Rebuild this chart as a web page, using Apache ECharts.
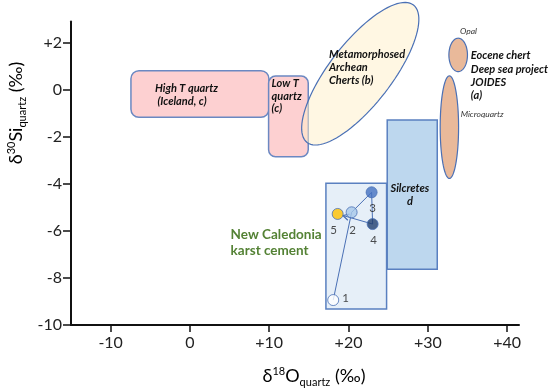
<!DOCTYPE html>
<html><head><meta charset="utf-8">
<script src="https://cdn.jsdelivr.net/npm/echarts@6/dist/echarts.min.js"></script>
<style>html,body{margin:0;padding:0;background:#fff}#c{width:550px;height:388px}</style>
</head><body><div id="c"></div>
<script>
// ---------------- data ----------------
const xTicks = [-10, 0, 10, 20, 30, 40];
const yTicks = [2, 0, -2, -4, -6, -8, -10];

// rectangular fields (x range in δ18O, y range in δ30Si)
const boxNames = ['High T quartz (Iceland, c)', 'Low T quartz (c)', 'Silcretes d', 'New Caledonia karst cement'];
const boxX0 = [-7.44, 9.92, 24.88, 17.15];
const boxX1 = [9.96, 14.92, 31.19, 24.80];
const boxY0 = [-1.17, -2.85, -7.63, -9.32];
const boxY1 = [0.81, 0.58, -1.29, -3.98];

// elliptical fields: centre and two conjugate semi-axes (data units)
const ellNames = ['Metamorphosed Archean Cherts (b)', 'Opal', 'Microquartz'];
const ellCX = [21.48, 33.83, 32.72];
const ellCY = [0.68, 1.48, -1.59];
const ellAX = [6.71, 1.17, 1.16];
const ellAY = [2.92, 0, 0];
const ellBX = [3.10, 0, 0];
const ellBY = [-0.81, 0.71, 2.18];

// New Caledonia karst cement samples
const sampleLabels = ['1', '2', '3', '4', '5'];
const sampleX = [18.07, 20.39, 22.91, 23.04, 18.63];
const sampleY = [-8.94, -5.21, -4.36, -5.71, -5.28];

// ---------------- styles ----------------
const boxStyles = [
  {fill: '#FDD0D1', stroke: '#6B88C2', r: 8},
  {fill: '#FDD0D1', stroke: '#6B88C2', r: 7},
  {fill: '#BDD7EE', stroke: '#5A80C0', r: 0},
  {fill: '#E6EFF8', stroke: '#5A80C0', r: 0}
];
const ellStyles = [
  {fill: 'rgba(255,240,200,0.5)', stroke: '#4A70B5'},
  {fill: '#E9B99A', stroke: '#4A70B5'},
  {fill: '#E9B99A', stroke: '#4A70B5'}
];
const sampleStyles = [
  {color: '#FFFFFF'}, {color: '#A8C8EA'}, {color: '#4470C0'}, {color: '#1F3D6E'}, {color: '#FFC000'}
];
const sampleLabelPos = [
  {position: 'right', distance: 3, offset: [0, -2]},
  {position: 'bottom', distance: 6, offset: [1, 0]},
  {position: 'bottom', distance: 4, offset: [1, 0]},
  {position: 'bottom', distance: 4, offset: [1, 0]},
  {position: 'bottom', distance: 4, offset: [-4, 0]}
];
const FONT = 'Lato, "Open Sans", sans-serif';
const annotations = [
  {text: 'High T quartz\n (Iceland, c)', x: -4.41, y: -0.21, size: 11, lh: 13, weight: 'bold', style: 'italic', align: 'left', color: '#111'},
  {text: 'Low T\nquartz\n(c)', x: 10.30, y: -0.27, size: 11, lh: 12.2, weight: 'bold', style: 'italic', align: 'left', color: '#111'},
  {text: 'Metamorphosed\nArchean\nCherts (b)', x: 17.53, y: 0.94, size: 11, lh: 13.3, weight: 'bold', style: 'italic', align: 'left', color: '#111'},
  {text: 'Opal', x: 34.05, y: 2.50, size: 8.5, lh: 10, weight: 'normal', style: 'italic', align: 'left', color: '#333'},
  {text: 'Eocene chert\nDeep sea project\nJOIDES\n(a)', x: 35.43, y: 0.59, size: 11, lh: 13.4, weight: 'bold', style: 'italic', align: 'left', color: '#111'},
  {text: 'Microquartz', x: 34.14, y: -1.04, size: 8.5, lh: 10, weight: 'normal', style: 'italic', align: 'left', color: '#333'},
  {text: 'Silcretes\nd', x: 27.74, y: -4.47, size: 11, lh: 12.5, weight: 'bold', style: 'italic', align: 'center', color: '#111'},
  {text: 'New Caledonia\nkarst cement', x: 5.13, y: -6.50, size: 13.5, lh: 16.7, weight: 'bold', style: 'normal', align: 'left', color: '#548235'}
];

const chart = echarts.init(document.getElementById('c'), null, {renderer: 'canvas'});

const boxData = boxNames.map((n, i) => ({name: n, value: [boxX0[i], boxY0[i], boxX1[i], boxY1[i]]}));
const ellData = ellNames.map((n, i) => ({name: n, value: [ellCX[i], ellCY[i], ellAX[i], ellAY[i], ellBX[i], ellBY[i]]}));
const sampleData = sampleLabels.map((l, i) => ({
  name: l, value: [sampleX[i], sampleY[i]],
  itemStyle: {color: sampleStyles[i].color, borderColor: '#4A70B5', borderWidth: 1},
  label: Object.assign({show: true, formatter: l, fontSize: 11.5, color: '#222', fontFamily: FONT}, sampleLabelPos[i])
}));
const pathData = sampleLabels.map((l, i) => [sampleX[i], sampleY[i]]);

const fmt = v => (v > 0 ? '+' + v : '' + v);
const axisFont = {fontFamily: FONT, fontSize: 16, color: '#222'};

const option = {
  animation: false,
  backgroundColor: '#fff',
  grid: {left: 71, right: 31, top: 21.5, bottom: 63},
  xAxis: {
    type: 'value', min: -15, max: 41.5,
    splitLine: {show: false},
    axisLine: {onZero: false, lineStyle: {color: '#111', width: 2}},
    axisTick: {customValues: xTicks, length: 7, lineStyle: {color: '#111', width: 1.5}},
    axisLabel: Object.assign({customValues: xTicks, formatter: fmt, margin: 10}, axisFont)
  },
  yAxis: {
    type: 'value', min: -10, max: 2.9,
    splitLine: {show: false},
    axisLine: {onZero: false, lineStyle: {color: '#111', width: 2}},
    axisTick: {customValues: yTicks, length: 8, lineStyle: {color: '#111', width: 1.5}},
    axisLabel: Object.assign({customValues: yTicks, formatter: fmt, margin: 9}, axisFont)
  },
  graphic: [
    {type: 'text', x: 16, y: 113, rotation: Math.PI / 2,
     style: {text: '{m|δ}{sup|30}{m|Si}{sub|quartz}{m| (‰)}', align: 'center', verticalAlign: 'middle',
       rich: {
         m: {fontFamily: FONT, fontSize: 18, color: '#222', lineHeight: 24, verticalAlign: 'middle'},
         sup: {fontFamily: FONT, fontSize: 11, color: '#222', lineHeight: 24, verticalAlign: 'top', padding: [2, 0, 0, 0]},
         sub: {fontFamily: FONT, fontSize: 11, color: '#222', lineHeight: 24, verticalAlign: 'bottom', padding: [0, 0, 0, 0]}
       }}},
    {type: 'text', x: 314, y: 376,
     style: {text: '{m|δ}{sup|18}{m|O}{sub|quartz}{m| (‰)}', align: 'center', verticalAlign: 'middle',
       rich: {
         m: {fontFamily: FONT, fontSize: 18, color: '#222', lineHeight: 24, verticalAlign: 'middle'},
         sup: {fontFamily: FONT, fontSize: 11, color: '#222', lineHeight: 24, verticalAlign: 'top', padding: [2, 0, 0, 0]},
         sub: {fontFamily: FONT, fontSize: 11, color: '#222', lineHeight: 24, verticalAlign: 'bottom'}
       }}}
  ],
  series: [
    {
      type: 'custom', name: 'fields', z: 1,
      data: boxData,
      encode: {x: [0, 2], y: [1, 3]},
      renderItem: function (params, api) {
        const st = boxStyles[params.dataIndex];
        const p0 = api.coord([api.value(0), api.value(3)]);
        const p1 = api.coord([api.value(2), api.value(1)]);
        return {type: 'rect', shape: {x: p0[0], y: p0[1], width: p1[0] - p0[0], height: p1[1] - p0[1], r: st.r},
          style: {fill: st.fill, stroke: st.stroke, lineWidth: 1.5}};
      }
    },
    {
      type: 'custom', name: 'ellipses', z: 2,
      data: ellData,
      encode: {x: 0, y: 1},
      renderItem: function (params, api) {
        const st = ellStyles[params.dataIndex];
        const cx = api.value(0), cy = api.value(1), ax = api.value(2), ay = api.value(3), bx = api.value(4), by = api.value(5);
        const pts = [];
        for (let k = 0; k < 96; k++) {
          const t = k / 96 * Math.PI * 2;
          pts.push(api.coord([cx + ax * Math.cos(t) + bx * Math.sin(t), cy + ay * Math.cos(t) + by * Math.sin(t)]));
        }
        return {type: 'polygon', shape: {points: pts}, style: {fill: st.fill, stroke: st.stroke, lineWidth: 1.2}};
      }
    },
    {
      type: 'custom', name: 'path', z: 3,
      data: pathData,
      encode: {x: 0, y: 1},
      renderItem: function (params, api) {
        const i = params.dataIndex;
        if (i === 0) return {type: 'group', children: []};
        const stroke = '#4A70B5';
        const a = api.coord(pathData[i - 1]);
        const b = api.coord([api.value(0), api.value(1)]);
        if (i < pathData.length - 1) {
          return {type: 'line', shape: {x1: a[0], y1: a[1], x2: b[0], y2: b[1]}, style: {stroke: stroke, lineWidth: 1}};
        }
        const dx = b[0] - a[0], dy = b[1] - a[1], L = Math.hypot(dx, dy), ux = dx / L, uy = dy / L;
        const tip = [b[0] - ux * 5.5, b[1] - uy * 5.5];
        const base = [tip[0] - ux * 6, tip[1] - uy * 6];
        return {type: 'group', children: [
          {type: 'line', shape: {x1: a[0], y1: a[1], x2: tip[0], y2: tip[1]}, style: {stroke: stroke, lineWidth: 1}},
          {type: 'polyline', shape: {points: [[base[0] - uy * 3.2, base[1] + ux * 3.2], tip, [base[0] + uy * 3.2, base[1] - ux * 3.2]]},
            style: {stroke: stroke, lineWidth: 1.2, fill: 'none'}}
        ]};
      }
    },
    {
      type: 'scatter', name: 'samples', z: 4,
      symbol: 'circle', symbolSize: 11,
      data: sampleData
    },
    {
      type: 'custom', name: 'annotations', z: 5,
      data: annotations.map((a, i) => [a.x, a.y]),
      encode: {x: 0, y: 1},
      renderItem: function (params, api) {
        const a = annotations[params.dataIndex];
        const p = api.coord([api.value(0), api.value(1)]);
        return {type: 'text', x: p[0], y: p[1],
          style: {text: a.text, fontFamily: FONT, fontSize: a.size, fontWeight: a.weight, fontStyle: a.style,
            fill: a.color, align: a.align, verticalAlign: 'middle', lineHeight: a.lh}};
      }
    }
  ]
};
chart.setOption(option);
</script>
</body></html>
